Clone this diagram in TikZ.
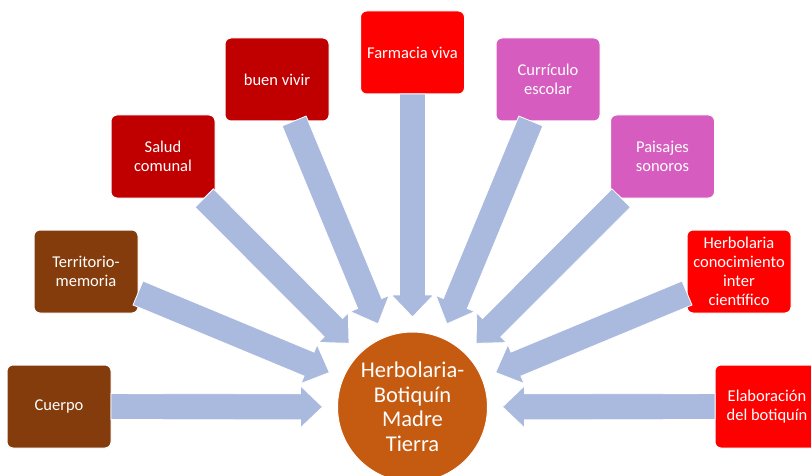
\documentclass[tikz,border=0pt]{standalone}
\usepackage{fontspec}
\setmainfont{Carlito}
\usetikzlibrary{calc}

\definecolor{brownbox}{HTML}{843C0C}
\definecolor{darkredbox}{HTML}{C00000}
\definecolor{redbox}{HTML}{FF0000}
\definecolor{pinkbox}{HTML}{D75CBF}
\definecolor{hubfill}{HTML}{C55A11}
\definecolor{arrowfill}{HTML}{AAB9DE}

\tikzset{
  topic/.style={rectangle, rounded corners=6pt, draw=white, line width=1pt,
    minimum width=104pt, minimum height=83pt, inner sep=0pt, outer sep=0pt,
    align=center, text=white, font=\fontsize{16.5}{19}\selectfont},
  hub/.style={circle, fill=hubfill, draw=white, line width=1pt,
    minimum size=150pt, inner sep=0pt, outer sep=0pt, align=center,
    text=white, font=\fontsize{22.5}{24.5}\selectfont},
  blockarrow/.style={fill=arrowfill, draw=white, line width=0.8pt, line join=miter}
}

% Broad block arrow from a topic box towards the hub, tip 90pt from its centre
\newcommand{\feedarrow}[2]{%
  \path (#1) -- (#2.center) coordinate[pos=0] (s-#1);
  \coordinate (t-#1) at ($(#2.center)!90pt!(#1.center)$);
  \coordinate (h-#1) at ($(t-#1)!22pt!(s-#1)$);
  \draw[blockarrow]
    ($(s-#1)!13pt!90:(t-#1)$) -- ($(h-#1)!13pt!90:(t-#1)$) --
    ($(h-#1)!21pt!90:(t-#1)$) -- (t-#1) --
    ($(h-#1)!21pt!-90:(t-#1)$) -- ($(h-#1)!13pt!-90:(t-#1)$) --
    ($(s-#1)!13pt!-90:(t-#1)$) -- cycle;%
}

\begin{document}
\begin{tikzpicture}[x=1pt, y=-1pt]
  \useasboundingbox (0,0) rectangle (811,476);
  \clip (0,0) rectangle (811,476);

  % central hub
  \node[hub] (hub) at (412.5,407) {Herbolaria-\\Botiquín\\Madre\\Tierra};

  % surrounding topics
  \node[topic, fill=brownbox]   (cuerpo) at (59,406.5)  {Cuerpo};
  \node[topic, fill=brownbox]   (terr)   at (86,271.5)  {Territorio-\\memoria};
  \node[topic, fill=darkredbox] (salud)  at (163,156.5) {Salud\\comunal};
  \node[topic, fill=darkredbox] (buen)   at (277,79.5)  {buen vivir};
  \node[topic, fill=redbox]     (farm)   at (412.5,52.5) {Farmacia viva};
  \node[topic, fill=pinkbox]    (curr)   at (548,79.5)  {Currículo\\escolar};
  \node[topic, fill=pinkbox]    (pais)   at (662.5,156.5) {Paisajes\\sonoros};
  \node[topic, fill=redbox]     (herb)   at (739,271.5) {Herbolaria\\conocimiento\\inter\\científico};
  \node[topic, fill=redbox]     (elab)   at (767,406.5) {Elaboración\\del botiquín};

  % arrows into the hub
  \feedarrow{cuerpo}{hub}
  \feedarrow{terr}{hub}
  \feedarrow{salud}{hub}
  \feedarrow{buen}{hub}
  \feedarrow{farm}{hub}
  \feedarrow{curr}{hub}
  \feedarrow{pais}{hub}
  \feedarrow{herb}{hub}
  \feedarrow{elab}{hub}
\end{tikzpicture}
\end{document}
